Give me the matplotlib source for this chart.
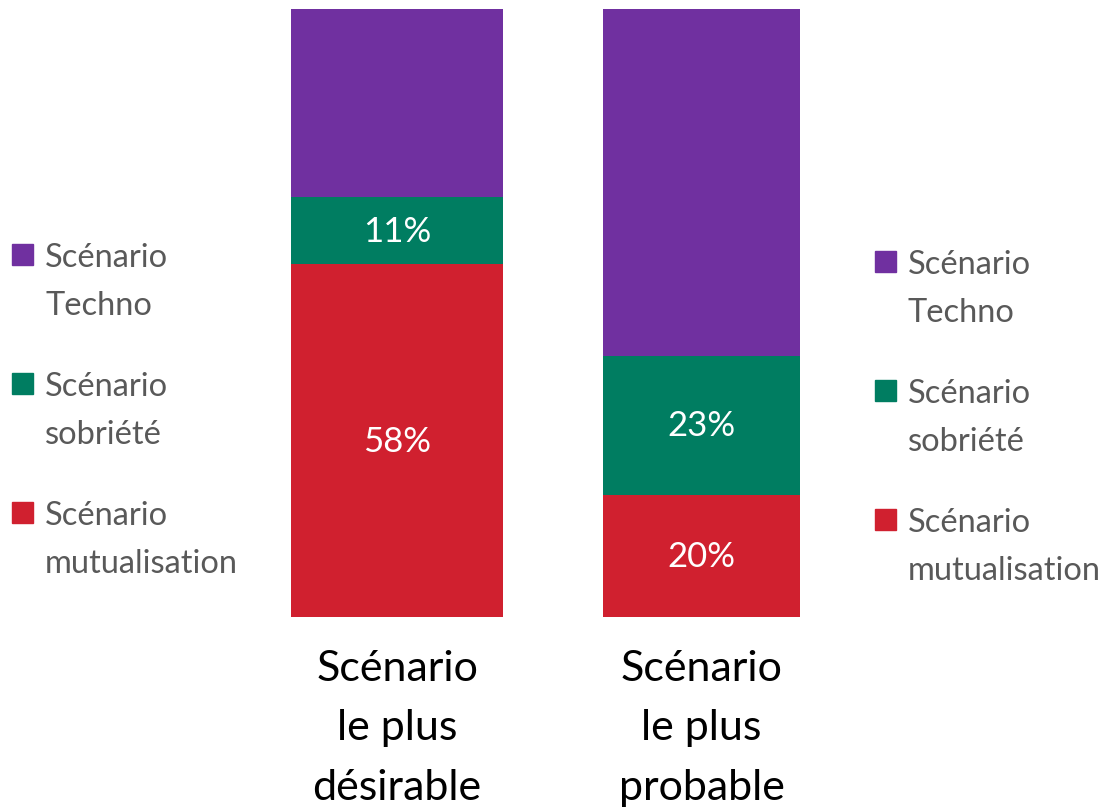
import matplotlib.pyplot as plt
import matplotlib.patches as mpatches
from matplotlib.transforms import ScaledTranslation

# data
categories = ['Scénario\nle plus\ndésirable', 'Scénario\nle plus\nprobable']
mutualisation = [58, 20]
sobriete = [11, 23]
techno = [31, 57]
series_names = ['Scénario\nTechno', 'Scénario\nsobriété', 'Scénario\nmutualisation']

c_techno = '#7030A0'
c_sobr = '#007D61'
c_mutu = '#D0202F'
series_colors = [c_techno, c_sobr, c_mutu]

plt.rcParams['font.family'] = ['Lato', 'DejaVu Sans']

W, H = 1099, 812
fig = plt.figure(figsize=(W / 100, H / 100), dpi=100)
ax = fig.add_axes([0, 0.2389, 1, 0.7488])

x = [0, 1]
widths = [0.696, 0.647]
ax.bar(x, mutualisation, width=widths, color=c_mutu)
ax.bar(x, sobriete, width=widths, bottom=mutualisation, color=c_sobr)
bottoms = [m + s for m, s in zip(mutualisation, sobriete)]
ax.bar(x, techno, width=widths, bottom=bottoms, color=c_techno)

# value labels (purple not labelled)
for i in x:
    ax.text(i, mutualisation[i] / 2, f'{mutualisation[i]}%', ha='center', va='center',
            color='white', fontsize=25)
    ax.text(i, mutualisation[i] + sobriete[i] / 2, f'{sobriete[i]}%', ha='center',
            va='center', color='white', fontsize=25)

ax.set_xlim(-1.304, 2.305)
ax.set_ylim(0, 100)
ax.set_xticks(x)
ax.set_xticklabels(categories, fontsize=31, color='black')
for t in ax.get_xticklabels():
    t.set_linespacing(1.69)
# right label sits a bit lower in the original
lbl = ax.get_xticklabels()[1]
lbl.set_transform(lbl.get_transform() + ScaledTranslation(0, -0.07, fig.dpi_scale_trans))
ax.tick_params(axis='x', length=0, pad=23)
ax.set_yticks([])
for s in ax.spines.values():
    s.set_visible(False)

# legends drawn by hand so the square sits on the first line
def draw_legend(x_sq, y_first, step=129, gap=48):
    for k, (name, col) in enumerate(zip(series_names, series_colors)):
        yb = y_first + k * step  # baseline of first line, pixels from top
        fig.patches.append(mpatches.Rectangle(
            (x_sq / W, 1 - (yb - 1) / H), 21 / W, 21 / H,
            transform=fig.transFigure, color=col))
        # baseline alignment uses the last line of a two-line label
        fig.text((x_sq + 33) / W, 1 - (yb + gap) / H, name, fontsize=23.5,
                 color='#595959', va='baseline', ha='left', linespacing=1.73)

draw_legend(12, 267)
draw_legend(875, 274)

fig.savefig('out.png', dpi=100, facecolor='white')
